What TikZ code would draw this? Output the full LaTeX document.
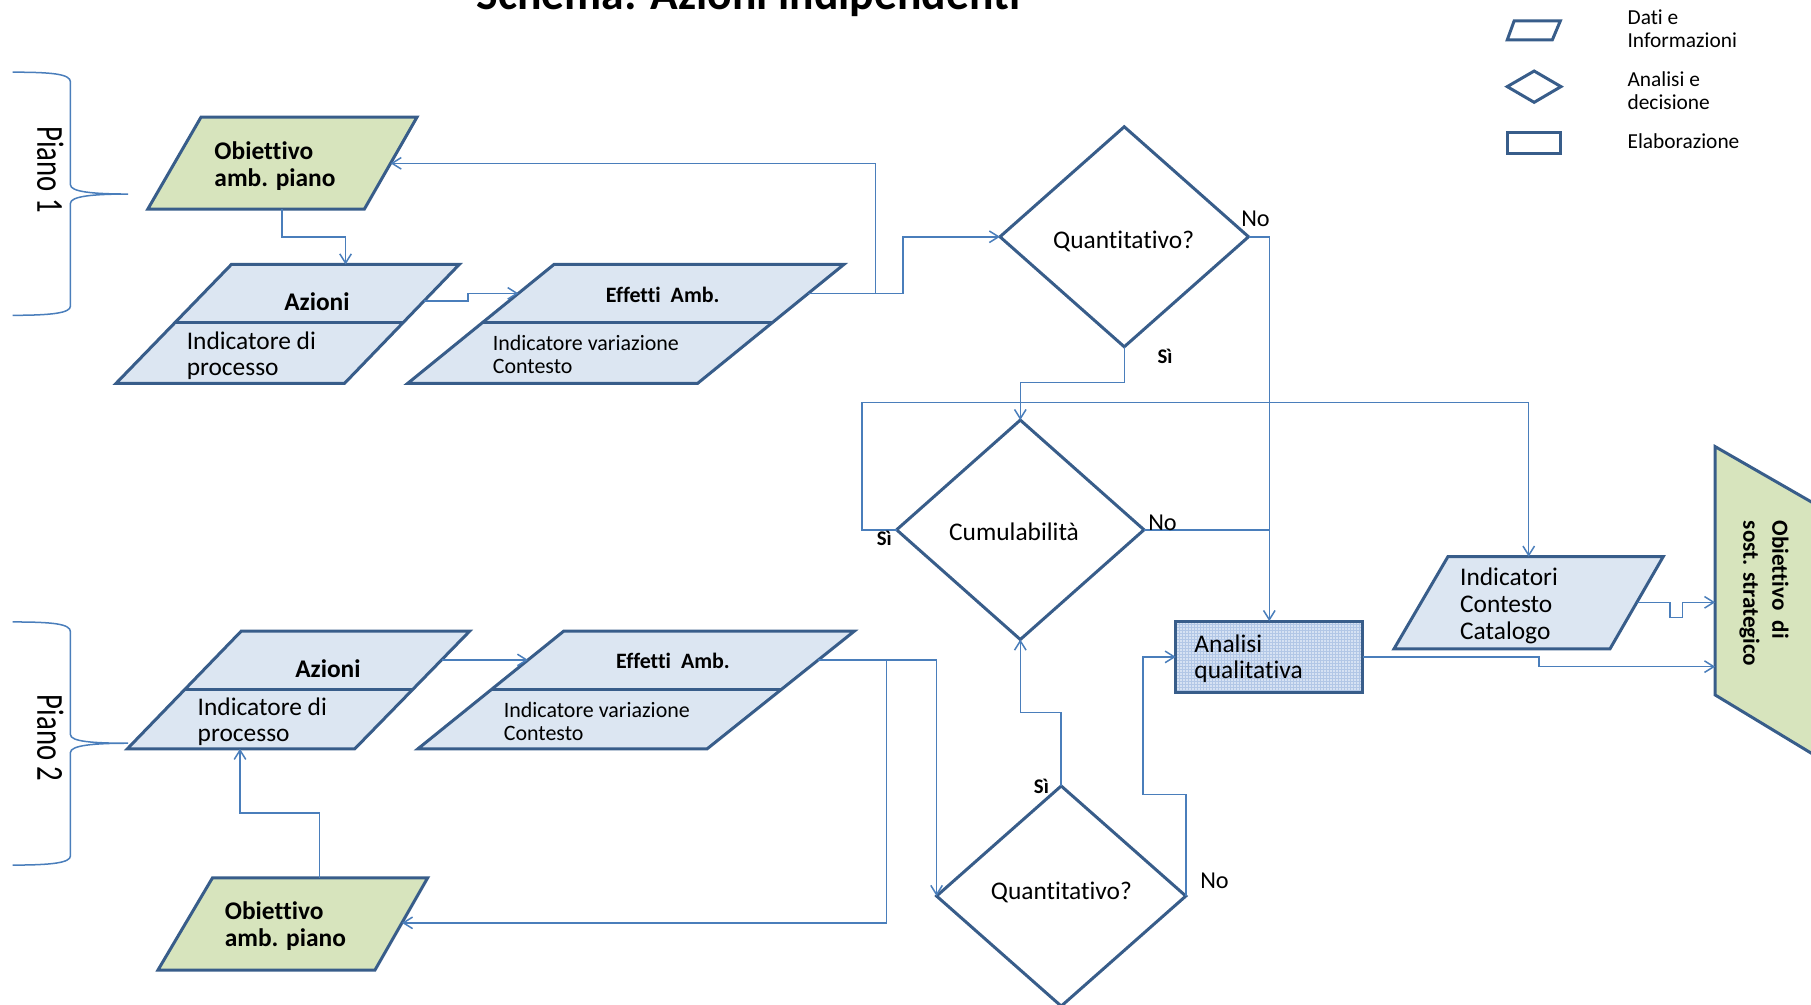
\documentclass[tikz,border=0pt]{standalone}
\usepackage{fontspec}
\usepackage{graphicx}
\setmainfont{Carlito}[Ligatures=CommonOff]
\usetikzlibrary{arrows.meta,shapes.geometric,calc}

\definecolor{boxc}{HTML}{385D8A}
\definecolor{linec}{HTML}{4A7EBB}
\definecolor{fillb}{HTML}{DCE6F2}
\definecolor{fillg}{HTML}{D7E4BD}
\definecolor{gridc}{HTML}{B2C7E6}
\definecolor{gridbg}{HTML}{D6E2F3}

% stacked lines, baseline of the block = baseline of the first line
\newcommand\mlin[1]{\vtop{\halign{##\hfil\cr#1\crcr}}}

\begin{document}
\begin{tikzpicture}[x=1pt,y=-1pt,
  shapebox/.style={draw=boxc, line width=2.6pt, line join=miter},
  conn/.style={draw=linec, line width=1.3pt},
  arr/.style={conn, -{Straight Barb[length=8pt,width=10pt]}},
  dec/.style={shape=diamond, draw=boxc, line width=2.6pt, outer sep=0pt, inner sep=0pt, fill=white},
  txt/.style={inner sep=0pt, anchor=base west, text=black},
  ctxt/.style={inner sep=0pt, anchor=base, text=black},
  regA/.style={font=\fontsize{22}{22.5}\selectfont},
  boldA/.style={font=\fontsize{22}{23.5}\selectfont\bfseries},
  regB/.style={font=\fontsize{19}{20}\selectfont},
  boldB/.style={font=\fontsize{19}{20}\selectfont\bfseries},
  yes/.style={font=\fontsize{18}{20}\selectfont\bfseries},
  no/.style={font=\fontsize{21}{22}\selectfont},
  legtext/.style={font=\fontsize{18.5}{19.6}\selectfont},
  plan/.style={font=\fontsize{33}{40}\selectfont, rotate=-90},
]
\useasboundingbox (0,0) rectangle (1568,870);
\clip (0,0) rectangle (1568,870);

% ---------- title ----------
\node[ctxt, font=\fontsize{39.5}{44}\selectfont\bfseries] (title) at (648,8.6) {Schema: Azioni indipendenti};

% ---------- legend ----------
\draw[shapebox] (1311,18) -- (1351,18) -- (1344,34.6) -- (1305,34.6) -- cycle;
\draw[shapebox] (1305,75) -- (1328.3,61.5) -- (1351.5,75) -- (1328.3,88.6) -- cycle;
\draw[shapebox] (1305,115) rectangle (1351.5,133.3);
\node[txt, legtext] (leg1) at (1409,21.5) {\mlin{Dati e\cr Informazioni}};
\node[txt, legtext] (leg2) at (1409,74.8) {\mlin{Analisi e\cr decisione}};
\node[txt, legtext] (leg3) at (1409,128.3) {Elaborazione};

% ---------- plan braces ----------
\draw[conn] (11,62.5) .. controls (45,62.5) and (61,64) .. (61,71) -- (61,160)
  .. controls (61,166) and (80,168) .. (111,168)
  .. controls (80,168) and (61,170) .. (61,176) -- (61,265)
  .. controls (61,271) and (45,273) .. (11,273);
\draw[conn] (11,538.5) .. controls (45,538.5) and (61,540) .. (61,547) -- (61,636)
  .. controls (61,642) and (80,643.5) .. (111,643.5)
  .. controls (80,643.5) and (61,645.5) .. (61,651.5) -- (61,741)
  .. controls (61,747) and (45,749) .. (11,749);
\node[txt, plan] (piano1) at (32.3,109) {\scalebox{0.755}[1]{Piano 1}};
\node[txt, plan] (piano2) at (32.3,601.5) {\scalebox{0.755}[1]{Piano 2}};

% ---------- plan 1 ----------
\filldraw[shapebox, fill=fillg] (174,101.5) -- (361,101.5) -- (315.5,181) -- (128,181) -- cycle;
\filldraw[shapebox, fill=fillb] (200.3,229) -- (397.6,229) -- (298.2,332) -- (100.4,332) -- cycle;
\draw[shapebox] (151.3,279.5) -- (348.6,279.5);
\filldraw[shapebox, fill=fillb] (479.6,229) -- (730.6,229) -- (603.9,332) -- (352.9,332) -- cycle;
\draw[shapebox] (417.5,279.5) -- (668.5,279.5);

\coordinate (o1s) at (244.3,181);
\coordinate (o1e) at (338.2,141.4);
\coordinate (az1n) at (299.2,229);
\coordinate (az1e) at (367,260.6);
\coordinate (ef1w) at (448.8,254);
\coordinate (ef1e) at (699.8,254);
\coordinate (j1) at (758,254);

\node[txt, boldA] (o1t) at (185.5,138) {\mlin{Obiettivo\cr amb. piano}};
\node[ctxt, boldA] (az1t) at (274.4,269) {Azioni};
\node[txt, regA] (az1i) at (161.5,302.8) {\mlin{Indicatore di\cr processo}};
\node[ctxt, boldB] (ef1t) at (573.8,261.8) {Effetti\ \ Amb.};
\node[txt, regB] (ef1i) at (426.5,303.2) {\mlin{Indicatore variazione\cr Contesto}};

% ---------- plan 2 ----------
\filldraw[shapebox, fill=fillb] (208.8,546.5) -- (406.6,546.5) -- (307.2,648.3) -- (110.3,648.3) -- cycle;
\draw[shapebox] (160.1,596.8) -- (357.5,596.8);
\filldraw[shapebox, fill=fillb] (488,546.5) -- (739.6,546.5) -- (612.3,648.3) -- (361.9,648.3) -- cycle;
\draw[shapebox] (425.7,596.8) -- (676.7,596.8);
\filldraw[shapebox, fill=fillg] (184,760) -- (370.3,760) -- (324.6,840) -- (136.7,840) -- cycle;

\coordinate (az2e) at (382.3,571.4);
\coordinate (az2s) at (207.8,648.3);
\coordinate (ef2w) at (457.2,571.4);
\coordinate (ef2e) at (708.5,571.4);
\coordinate (j2) at (767.5,571.4);
\coordinate (o2n) at (276.8,760);
\coordinate (o2e) at (348,799);

\node[ctxt, boldA] (az2t) at (283.9,586.4) {Azioni};
\node[txt, regA] (az2i) at (171,619.8) {\mlin{Indicatore di\cr processo}};
\node[ctxt, boldB] (ef2t) at (582.7,579.2) {Effetti\ \ Amb.};
\node[txt, regB] (ef2i) at (436,620.8) {\mlin{Indicatore variazione\cr Contesto}};
\node[txt, boldA] (o2t) at (194.5,796.4) {\mlin{Obiettivo\cr amb. piano}};

% ---------- decisions ----------
\node[dec, minimum width=215.2pt, minimum height=190.5pt] (q1) at (973.4,205) {};
\node[dec, minimum width=214.2pt, minimum height=190pt] (cu) at (883.4,458.7) {};
\node[dec, minimum width=215.8pt, minimum height=190.6pt] (q2) at (918.8,775.8) {};
\node[ctxt, regA] (q1t) at (972.9,215) {Quantitativo?};
\node[ctxt, regA] (cut) at (878,468.3) {Cumulabilità};
\node[ctxt, regA] (q2t) at (919,779.2) {Quantitativo?};

% ---------- qualitative analysis ----------
\node[shapebox, rectangle, minimum width=162pt, minimum height=62pt, outer sep=0pt, inner sep=0pt,
  fill=gridbg, path picture={\draw[gridc, line width=0.45pt]
    (path picture bounding box.south west) grid[step=2.6pt] (path picture bounding box.north east);}]
  (aq) at (1099,568.75) {};
\node[txt, font=\fontsize{22}{22.6}\selectfont] (aqt) at (1034,565) {\mlin{Analisi\cr qualitativa}};

% ---------- context indicators ----------
\filldraw[shapebox, fill=fillb] (1253.6,482) -- (1440,482) -- (1394,561.7) -- (1207,561.7) -- cycle;
\coordinate (indn) at (1323.6,482);
\coordinate (inde) at (1417.2,521.5);
\node[txt, font=\fontsize{22}{23.4}\selectfont] (indt) at (1264,506.8) {\mlin{Indicatori\cr Contesto\cr Catalogo}};

% ---------- strategic objective ----------
\filldraw[shapebox, fill=fillg] (1485,386.7) -- (1620,464.3) -- (1620,683.5) -- (1485,601.7) -- cycle;
\coordinate (os1) at (1485,521.5);
\coordinate (os2) at (1485,577.2);
\node[txt, rotate=-90, font=\fontsize{20}{25}\selectfont\bfseries] (ost) at (1534.5,450.7)
  {\mlin{Obiettivo\ \ di\cr sost. strategico}};

% ---------- connectors ----------
\draw[arr] (o1s) -- ++(0,24) -| (az1n);
\draw[arr] (az1e) -- ++(38,0) |- (ef1w);
\draw[arr] (ef1e) -- (j1) |- (o1e);
\draw[arr] (j1) -- ++(23.8,0) |- (q1.west);
\draw[arr] (q1.east) -| (aq.north);
\draw[arr] (q1.south) -- ++(0,31.1) -| (cu.north);
\draw[conn] (cu.east) -- (cu.east -| aq.north);
\draw[arr] (cu.west) -- ++(-29.8,0) -- ++(0,-110) -| (indn);

\draw[arr] (az2e) -- (ef2w);
\draw[arr] (ef2e) -- (j2) |- (o2e);
\draw[arr] (j2) -| (q2.west);
\draw[arr] (o2n) -- ++(0,-56) -| (az2s);
\draw[arr] (q2.north) -- ++(0,-63.5) -| (cu.south);
\draw[arr] (q2.east) -- ++(0,-87.8) -- ++(-37.2,0) |- (aq.west);

\draw[arr] (aq.east) -- ++(152.6,0) |- (os2);
\draw[arr] (inde) -- ++(28.8,0) -- ++(0,13.3) -- ++(10.6,0) |- (os1);

% ---------- branch labels ----------
\node[txt, no] (q1no) at (1074.5,196.5) {No};
\node[txt, yes] (q1si) at (1002,314.5) {Sì};
\node[txt, no] (cuno) at (994,459.7) {No};
\node[txt, yes] (cusi) at (759,472.5) {Sì};
\node[txt, yes] (q2si) at (895,687.2) {Sì};
\node[txt, no] (q2no) at (1039,769.6) {No};
\end{tikzpicture}
\end{document}
